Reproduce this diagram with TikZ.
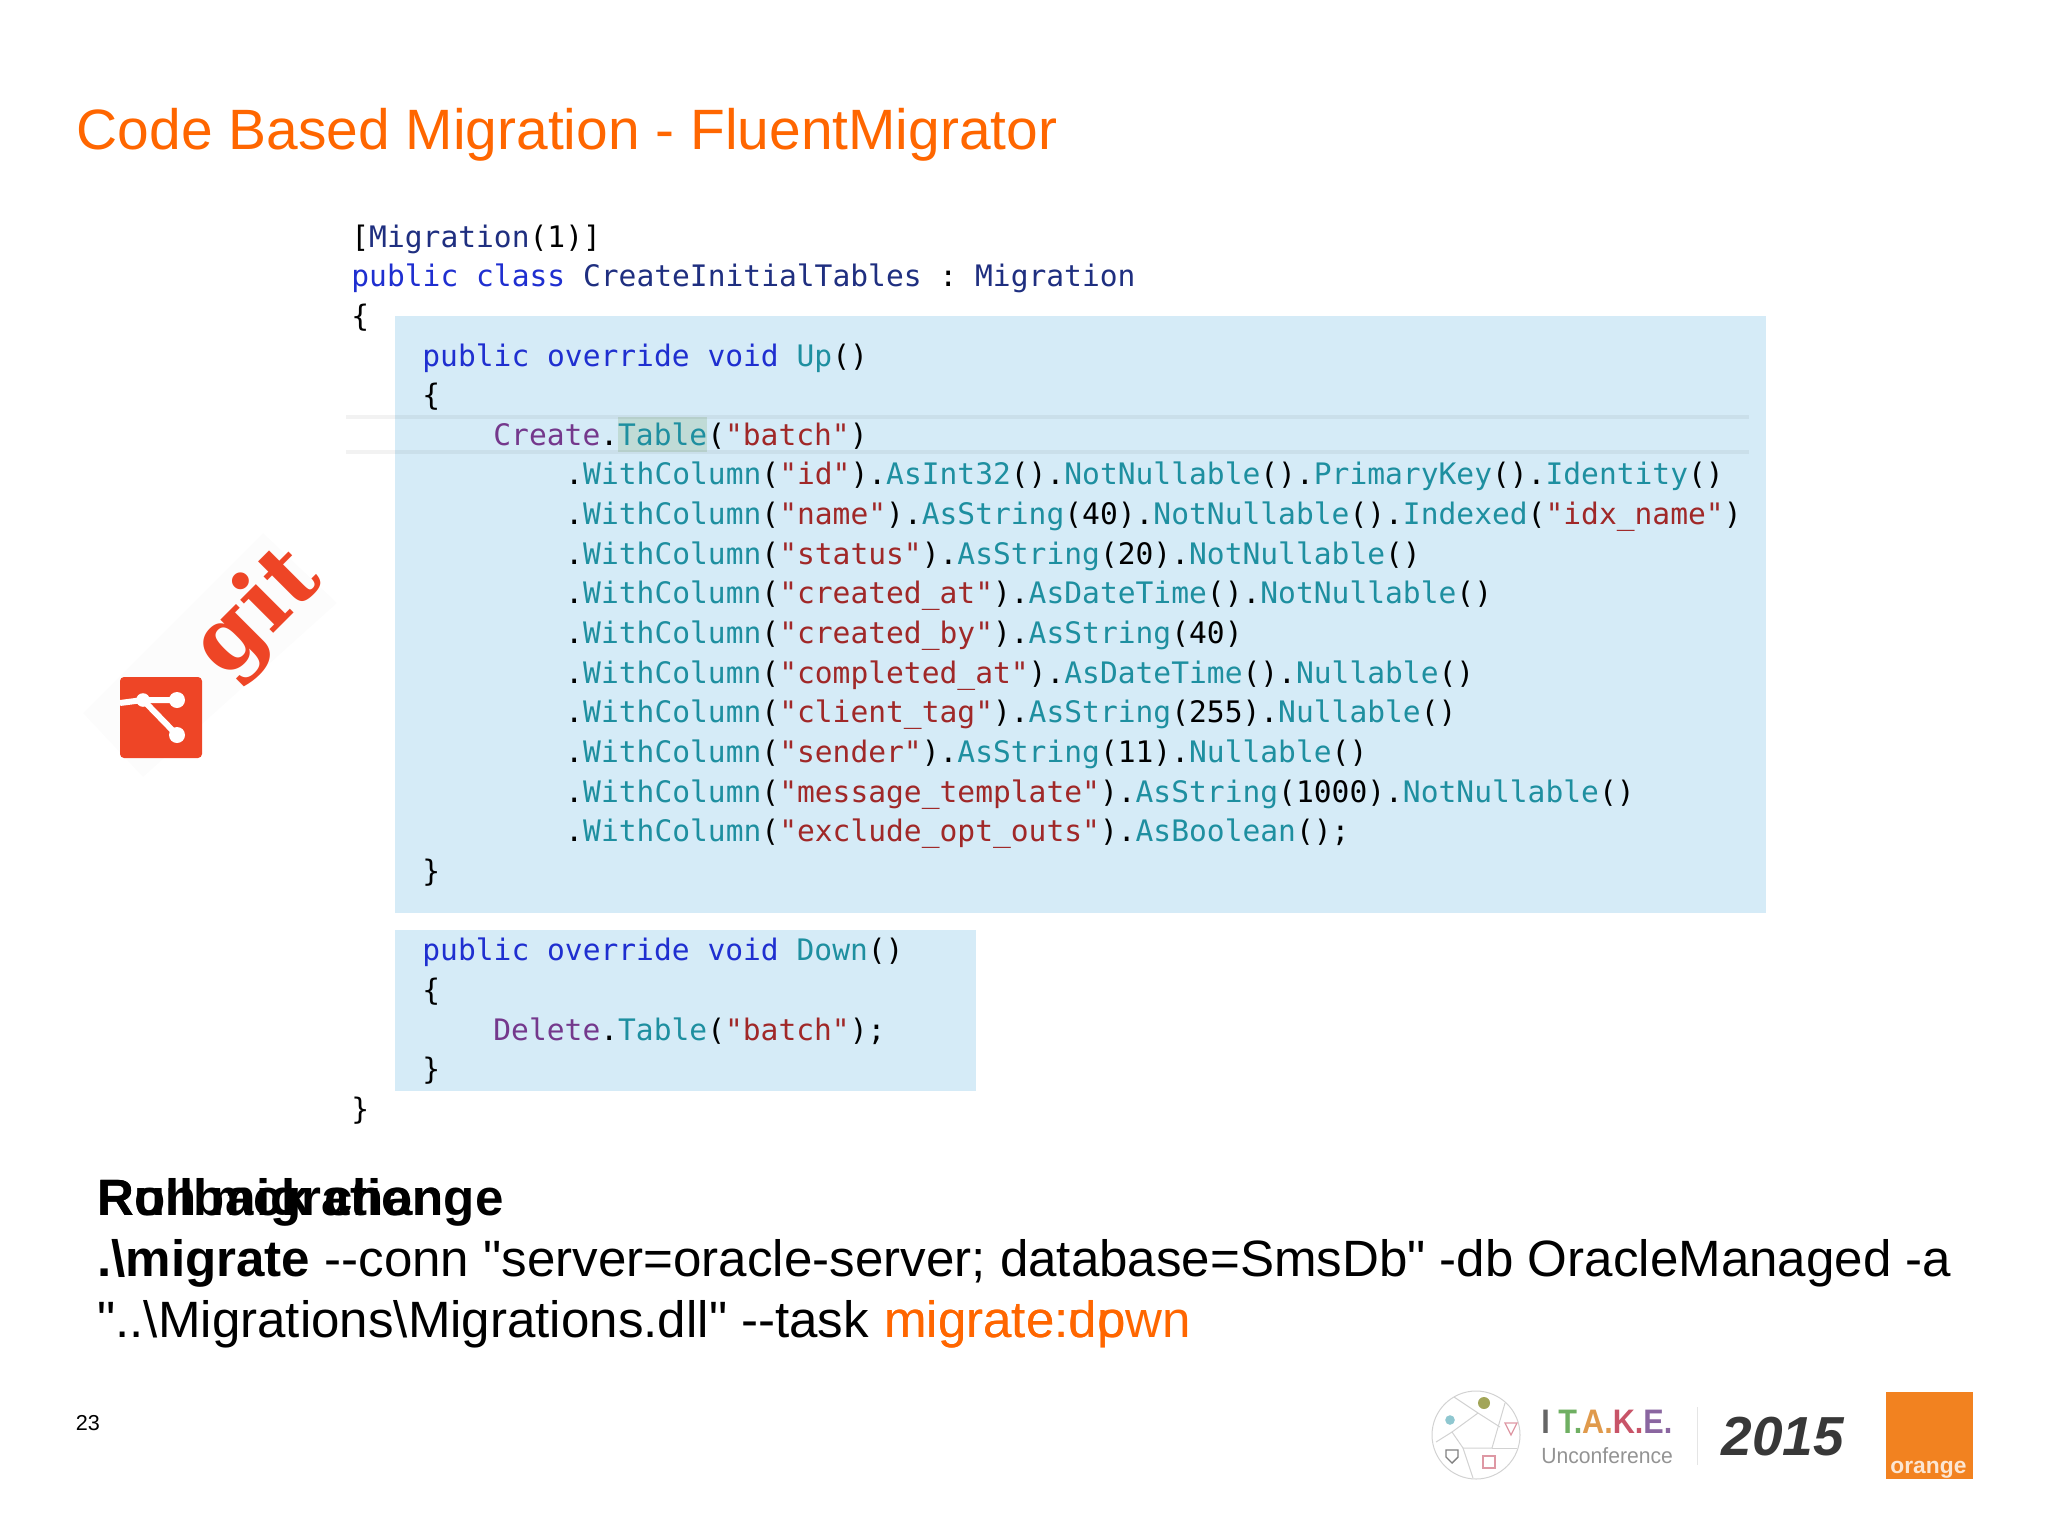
\documentclass[tikz,border=0pt]{standalone}
\usepackage{fontspec}
\setmonofont{DejaVu Sans Mono}
\newfontfamily\slidefont{Liberation Sans}
\newfontfamily\gitfont{DejaVu Serif}
\definecolor{slideorange}{HTML}{FF6600}
\definecolor{boxblue}{HTML}{D5EBF7}
\definecolor{wordhl}{HTML}{C0DBD6}
\definecolor{kwblue}{HTML}{1F2FD0}
\definecolor{clsnavy}{HTML}{1F2F80}
\definecolor{mthteal}{HTML}{1E8FA0}
\definecolor{strred}{HTML}{A02828}
\definecolor{objpurple}{HTML}{74388C}
\definecolor{gitred}{HTML}{EE4526}
\definecolor{itakegreen}{HTML}{6FAF62}
\definecolor{itakeamber}{HTML}{E09A4C}
\definecolor{itakered}{HTML}{C85468}
\definecolor{itakeviolet}{HTML}{8A66A0}
\definecolor{brandorange}{HTML}{F28220}
\newcommand{\kwd}[1]{\textcolor{kwblue}{#1}}
\newcommand{\cls}[1]{\textcolor{clsnavy}{#1}}
\newcommand{\mth}[1]{\textcolor{mthteal}{#1}}
\newcommand{\strg}[1]{\textcolor{strred}{#1}}
\newcommand{\obj}[1]{\textcolor{objpurple}{#1}}
\begin{document}
\begin{tikzpicture}[
    x=0.5pt, y=-0.5pt,
    codeline/.style={anchor=base west, inner sep=0pt, font=\fontsize{14.8}{18}\selectfont\ttfamily},
    slidetext/.style={anchor=base west, inner sep=0pt, font=\fontsize{25.55}{31}\selectfont\slidefont},
    boldtext/.style={slidetext, font=\fontsize{25.55}{31}\selectfont\slidefont\bfseries},
    logoline/.style={draw=gray!35, line width=0.5pt},
    gitline/.style={white, line width=3pt}
]
\useasboundingbox (0,0) rectangle (2048,1536);

% Title
\node[anchor=base west, inner sep=0pt, text=slideorange, font=\fontsize{28.45}{34}\selectfont\slidefont] (title) at (76.5,149) {Code Based Migration - FluentMigrator};

% Highlight boxes
\fill[boxblue] (394.5,316) rectangle (1766,913);
\fill[boxblue] (394.5,930) rectangle (976,1091);
\fill[wordhl] (618,417) rectangle (707,452);
\draw[black, opacity=0.05, line width=1.6pt] (346,417) -- (1749,417);
\draw[black, opacity=0.05, line width=1.6pt] (346,452) -- (1749,452);

% Class header
\node[codeline] (attr) at (351,247) {[\cls{Migration}(1)]};
\node[codeline] (decl) at (351,286.6) {\kwd{public class} \cls{CreateInitialTables} : \cls{Migration}};
\node[codeline] (open) at (351,326.3) {\{};

% Up method
\node[codeline] (upsig) at (422,366) {\kwd{public override void} \mth{Up}()};
\node[codeline] (upopen) at (422,405.6) {\{};
\node[codeline] (create) at (493,445.2) {\obj{Create}.\mth{Table}(\strg{"batch"})};
\node[codeline] (colid) at (565,484.9) {.\mth{WithColumn}(\strg{"id"}).\mth{AsInt32}().\mth{NotNullable}().\mth{PrimaryKey}().\mth{Identity}()};
\node[codeline] (colname) at (565,524.5) {.\mth{WithColumn}(\strg{"name"}).\mth{AsString}(40).\mth{NotNullable}().\mth{Indexed}(\strg{"idx\_name"})};
\node[codeline] (colstatus) at (565,564.2) {.\mth{WithColumn}(\strg{"status"}).\mth{AsString}(20).\mth{NotNullable}()};
\node[codeline] (colcreated) at (565,603.8) {.\mth{WithColumn}(\strg{"created\_at"}).\mth{AsDateTime}().\mth{NotNullable}()};
\node[codeline] (colby) at (565,643.5) {.\mth{WithColumn}(\strg{"created\_by"}).\mth{AsString}(40)};
\node[codeline] (coldone) at (565,683.1) {.\mth{WithColumn}(\strg{"completed\_at"}).\mth{AsDateTime}().\mth{Nullable}()};
\node[codeline] (coltag) at (565,722.8) {.\mth{WithColumn}(\strg{"client\_tag"}).\mth{AsString}(255).\mth{Nullable}()};
\node[codeline] (colsender) at (565,762.4) {.\mth{WithColumn}(\strg{"sender"}).\mth{AsString}(11).\mth{Nullable}()};
\node[codeline] (coltmpl) at (565,802.1) {.\mth{WithColumn}(\strg{"message\_template"}).\mth{AsString}(1000).\mth{NotNullable}()};
\node[codeline] (colopt) at (565,841.7) {.\mth{WithColumn}(\strg{"exclude\_opt\_outs"}).\mth{AsBoolean}();};
\node[codeline] (upclose) at (422,881.4) {\}};

% Down method
\node[codeline] (downsig) at (422,960.7) {\kwd{public override void} \mth{Down}()};
\node[codeline] (downopen) at (422,1000.3) {\{};
\node[codeline] (delete) at (493,1040) {\obj{Delete}.\mth{Table}(\strg{"batch"});};
\node[codeline] (downclose) at (422,1079.6) {\}};
\node[codeline] (close) at (351,1119.3) {\}};

% Overlaid command text
\node[boldtext] (rollback) at (97,1215) {Rollback change};
\node[boldtext] (runmig) at (97,1215) {Run migration};
\node[slidetext] (cmdone) at (97,1276) {\textbf{.\textbackslash migrate} --conn "server=oracle-server; database=SmsDb" -db OracleManaged -a};
\node[slidetext] (cmdtwo) at (97,1337) {"..\textbackslash Migrations\textbackslash Migrations.dll" --task};
\node[slidetext, text=slideorange, xshift=7.1pt] (taskdown) at (cmdtwo.base east) {migrate:down};
\node[slidetext, text=slideorange, xshift=7.1pt] (taskup) at (cmdtwo.base east) {migrate:up};

% Page number
\node[anchor=base west, inner sep=0pt, font=\fontsize{10.8}{13}\selectfont\slidefont] (pagenum) at (75.5,1430) {23};

% Git logo
\fill[gray!2] (263,533) -- (337,603) -- (143,777) -- (83,713) -- cycle;
\fill[gitred, rounded corners=2pt] (120,677) rectangle (202,758);
\draw[gitline] (120,703) -- (143,700) -- (177,700);
\draw[gitline] (143,700) -- (177,735);
\fill[white] (177,700) circle (4pt);
\fill[white] (177,735) circle (4pt);
\fill[white] (143,700) circle (3.4pt);
\node[rotate=45, anchor=base, inner sep=0pt, text=gitred, font=\fontsize{45}{52}\selectfont\gitfont\bfseries] (gitword) at (276,631) {git};

% Conference logo
\draw[logoline] (1476,1435) circle (22pt);
\draw[logoline] (1454,1397) -- (1478,1413) -- (1500,1427);
\draw[logoline] (1478,1413) -- (1452,1432) -- (1463,1448) -- (1492,1448) -- (1505,1403);
\draw[logoline] (1452,1432) -- (1436,1442);
\draw[logoline] (1463,1448) -- (1473,1478);
\draw[logoline] (1492,1448) -- (1517,1448);
\fill[mthteal!50] (1450,1420) circle (2.4pt);
\fill[itakegreen!55!itakeamber] (1484,1403) circle (3pt);
\draw[itakered!60, line width=0.6pt] (1505,1423) -- (1517,1423) -- (1511,1435) -- cycle;
\draw[gray, line width=0.7pt] (1446,1450) -- (1458,1450) -- (1458,1457) -- (1452,1463) -- (1446,1457) -- cycle;
\draw[itakered!60, line width=0.7pt] (1483,1456) rectangle (1495,1468);
\node[anchor=base west, inner sep=0pt, font=\fontsize{17}{20}\selectfont\slidefont\bfseries] (itake) at (1541,1433) {\scalebox{0.9}[1]{\textcolor{gray!80!black}{I} \textcolor{itakegreen}{T.}\textcolor{itakeamber}{A.}\textcolor{itakered}{K.}\textcolor{itakeviolet}{E.}}};
\node[anchor=base west, inner sep=0pt, text=gray!85, font=\fontsize{11}{14}\selectfont\slidefont] (unconf) at (1541,1463) {\scalebox{0.96}[1]{Unconference}};
\draw[gray!20, line width=0.5pt] (1697,1407) -- (1697,1465);
\node[anchor=base west, inner sep=0pt, text=black!78, font=\fontsize{27.5}{32}\selectfont\slidefont\bfseries\itshape] (year) at (1721,1455) {2015};
\fill[brandorange] (1886,1392) rectangle (1973,1479);
\node[anchor=base west, inner sep=0pt, text=white!80!brandorange, font=\fontsize{11.4}{14}\selectfont\slidefont\bfseries] (orangeword) at (1890,1473) {orange};
\end{tikzpicture}
\end{document}
